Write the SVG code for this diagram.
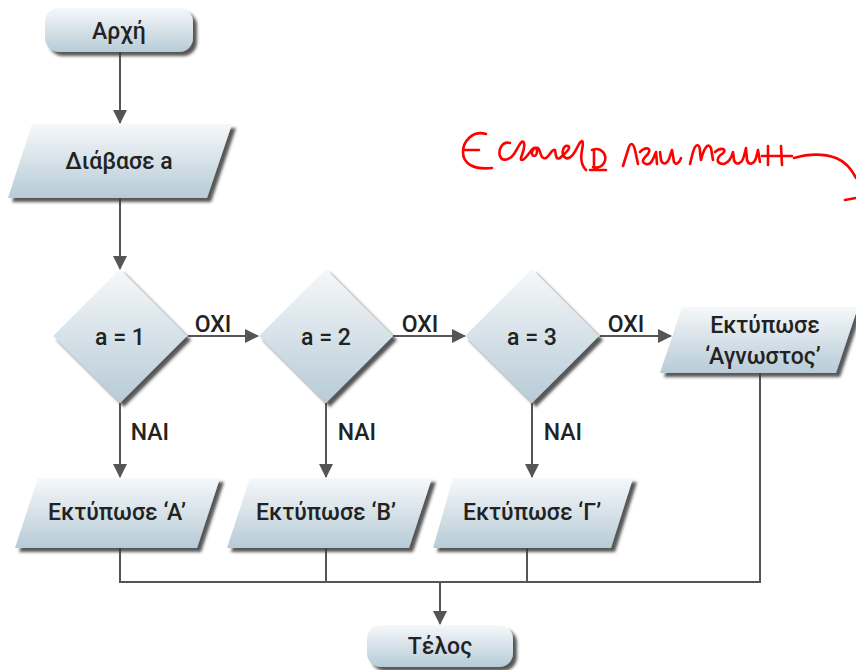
<svg xmlns="http://www.w3.org/2000/svg" width="856" height="670" viewBox="0 0 856 670">
  <defs>
    <linearGradient id="fillGrad" x1="0" y1="0" x2="0" y2="1">
      <stop offset="0" stop-color="#f6f8fa"/>
      <stop offset="1" stop-color="#b7cbd7"/>
    </linearGradient>
    <filter id="shadow" x="-10%" y="-10%" width="130%" height="140%">
      <feDropShadow dx="4" dy="4" stdDeviation="1.8" flood-color="#3a3a3a" flood-opacity="0.85"/>
    </filter>
    <marker id="arrow" markerWidth="14" markerHeight="14" refX="13" refY="7" orient="auto" markerUnits="userSpaceOnUse">
      <path d="M0,0 L14,7 L0,14 Z" fill="#555"/>
    </marker>
  </defs>
  <style>
    .shape { fill: url(#fillGrad); filter: url(#shadow); }
    .label { font-family: Roboto, "Liberation Sans", Arial, sans-serif; font-weight: 500; font-size: 23px; fill: #222; text-anchor: middle; }
    .edge-label { font-family: Roboto, "Liberation Sans", Arial, sans-serif; font-weight: 500; font-size: 23px; fill: #222; text-anchor: middle; }
    .line { stroke: #555; stroke-width: 2; fill: none; }
    .arrow { stroke: #555; stroke-width: 2; fill: none; marker-end: url(#arrow); }
    .ink { stroke: #f00; stroke-width: 2.6; fill: none; stroke-linecap: round; stroke-linejoin: round; }
  </style>

  <!-- connectors -->
  <g id="connectors">
    <path class="arrow" d="M120,52 L120,123"/>
    <path class="arrow" d="M120,198 L120,269"/>
    <path class="arrow" d="M188,336 L258,336"/>
    <path class="arrow" d="M393,336 L465,336"/>
    <path class="arrow" d="M600,336 L671,336"/>
    <path class="arrow" d="M120,403 L120,477"/>
    <path class="arrow" d="M326,403 L326,477"/>
    <path class="arrow" d="M532,403 L532,477"/>
    <path class="line" d="M120,548 L120,582 L760,582 L760,373"/>
    <path class="line" d="M326,548 L326,582"/>
    <path class="line" d="M527,548 L527,582"/>
    <path class="arrow" d="M440,582 L440,624"/>
    <text class="edge-label" x="213" y="332">OXI</text>
    <text class="edge-label" x="420" y="332">OXI</text>
    <text class="edge-label" x="626" y="332">OXI</text>
    <text class="edge-label" x="150" y="440">NAI</text>
    <text class="edge-label" x="357" y="440">NAI</text>
    <text class="edge-label" x="563" y="440">NAI</text>
  </g>

  <g id="start">
    <rect class="shape" x="45" y="8" width="148" height="44" rx="14"/>
    <text class="label" x="119" y="39">Αρχή</text>
  </g>

  <g id="read">
    <polygon class="shape" points="32,124 232,124 207,198 8,198"/>
    <text class="label" x="119" y="169">Διάβασε a</text>
  </g>

  <g id="cond1">
    <polygon class="shape" points="120,269 187,336 120,403 53,336"/>
    <text class="label" x="120" y="345">a = 1</text>
  </g>

  <g id="cond2">
    <polygon class="shape" points="326,269 393,336 326,403 259,336"/>
    <text class="label" x="326" y="345">a = 2</text>
  </g>

  <g id="cond3">
    <polygon class="shape" points="532,269 599,336 532,403 465,336"/>
    <text class="label" x="532" y="345">a = 3</text>
  </g>

  <g id="printUnknown">
    <polygon class="shape" points="682,307 858,307 836,373 660,373"/>
    <text class="label" x="765" y="333">Εκτύπωσε</text>
    <text class="label" x="763" y="364">‘Αγνωστος’</text>
  </g>

  <g id="printA">
    <polygon class="shape" points="38,478 220,478 197,548 15,548"/>
    <text class="label" x="117" y="520">Εκτύπωσε ‘Α’</text>
  </g>

  <g id="printB">
    <polygon class="shape" points="250,478 432,478 409,548 227,548"/>
    <text class="label" x="326" y="520">Εκτύπωσε ‘Β’</text>
  </g>

  <g id="printG">
    <polygon class="shape" points="453,478 633,478 611,548 433,548"/>
    <text class="label" x="532" y="520">Εκτύπωσε ‘Γ’</text>
  </g>

  <g id="end">
    <rect class="shape" x="367" y="625" width="146" height="42" rx="14"/>
    <text class="label" x="440" y="654">Τέλος</text>
  </g>

  <!-- freehand red annotation -->
  <g id="annotation">
    <path class="ink" d="M486,134 C472,130 463,142 463,152 C463,164 474,170 492,168 M463,150 L479,150"/>
    <path class="ink" d="M510,143 C502,141 498,150 500,156 C502,162 510,160 514,154 C518,148 522,138 524,143 C526,150 518,160 522,160 C526,160 530,150 534,148 C538,146 538,156 534,156 C530,156 532,146 538,148 C541,150 540,160 546,158 C550,156 552,148 555,150 C556,156 556,160 560,158 C564,154 572,148 568,146 C563,144 560,156 566,158 C570,160 574,154 578,146 C582,138 584,140 582,150 C580,160 582,166 586,170"/>
    <path class="ink" d="M594,150 L594,170 M592,150 C602,146 608,156 604,163 C601,168 596,168 593,167 M590,170 L606,170"/>
    <path class="ink" d="M623,166 L628,150 C630,142 633,142 635,150 L638,164"/>
    <path class="ink" d="M640,152 C646,146 652,148 648,154 C644,158 640,162 646,164 C652,166 654,156 656,152 L657,164"/>
    <path class="ink" d="M660,152 L661,160 C663,166 668,164 670,156 L672,150 L674,162 C676,166 680,162 681,158"/>
    <path class="ink" d="M690,164 L693,152 C696,142 700,144 700,152 L701,160 C704,148 708,142 711,148 L713,160"/>
    <path class="ink" d="M715,152 C722,146 728,150 722,154 C716,158 716,164 724,164 C730,162 732,156 733,152 L734,160 C736,166 742,164 744,156 L746,148 L747,160 C749,166 754,164 756,158 L758,150 L760,162"/>
    <path class="ink" d="M768,146 L768,165 M781,146 L782,165 M762,156 L792,156"/>
    <path class="ink" d="M794,158 C808,154 822,153 836,158 C846,162 852,170 856,178"/>
    <path class="ink" d="M845,200 L856,198"/>
  </g>
</svg>
